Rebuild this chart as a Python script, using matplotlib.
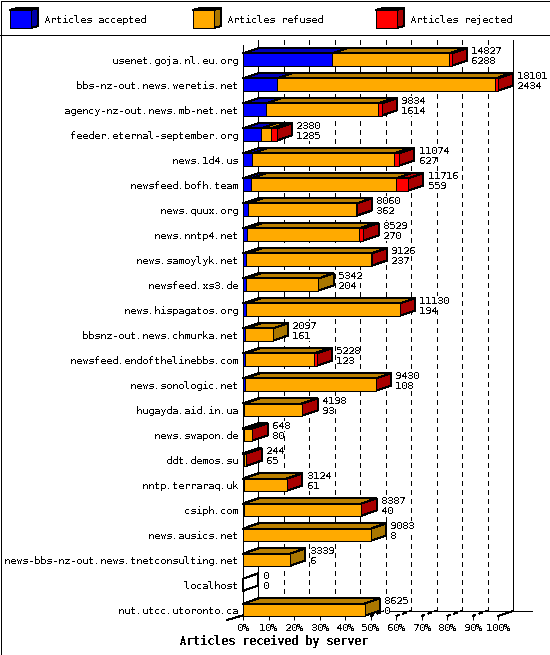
import matplotlib
matplotlib.use("Agg")
import matplotlib.pyplot as plt
from matplotlib.patches import Polygon, Rectangle

servers = ["usenet.goja.nl.eu.org", "bbs-nz-out.news.weretis.net", "agency-nz-out.news.mb-net.net",
           "feeder.eternal-september.org", "news.1d4.us", "newsfeed.bofh.team", "news.quux.org",
           "news.nntp4.net", "news.samoylyk.net", "newsfeed.xs3.de", "news.hispagatos.org",
           "bbsnz-out.news.chmurka.net", "newsfeed.endofthelinebbs.com", "news.sonologic.net",
           "hugayda.aid.in.ua", "news.swapon.de", "ddt.demos.su", "nntp.terraraq.uk", "csiph.com",
           "news.ausics.net", "news-bbs-nz-out.news.tnetconsulting.net", "localhost", "nut.utcc.utoronto.ca"]
total = [14827, 18101, 9834, 2380, 11074, 11716, 8060, 8529, 9126, 5342, 11130, 2097, 5228, 9430,
         4198, 648, 244, 3124, 8387, 9083, 3339, 0, 8625]
accepted = [6288, 2434, 1614, 1285, 627, 559, 362, 270, 237, 204, 194, 161, 123, 108, 93, 80, 65,
            61, 40, 8, 6, 0, 0]
rejected = [170, 180, 230, 390, 370, 870, 10, 280, 40, 0, 15, 0, 210, 10, 10, 10, 5, 10, 5, 0, 0, 0, 0]
xtick_values = [0, 10, 20, 30, 40, 50, 60, 70, 80, 90, 100]
legend_names = ["Articles accepted", "Articles refused", "Articles rejected"]
title = "Articles received by server"

FRONT = ["#0000FF", "#FFAA00", "#FF0000"]
TOP = ["#0000BB", "#BB8000", "#BB0000"]
SIDE = ["#0000AA", "#AA7700", "#AA0000"]
LW = 0.72
W, H = 550, 655
plt.rcParams["text.antialiased"] = False
plt.rcParams["text.hinting"] = "native"
plt.rcParams["text.hinting_factor"] = 1
plt.rcParams["font.family"] = ["DejaVu Sans Mono"]
plt.rcParams["font.size"] = 7.2

fig = plt.figure(figsize=(W / 100, H / 100), dpi=100, facecolor="white")

# chrome in pixel coordinates
chrome = fig.add_axes([0, 0, 1, 1], zorder=0)
chrome.set_xlim(0, W)
chrome.set_ylim(H, 0)
chrome.axis("off")
chrome.add_patch(Rectangle((0.5, 0.5), W - 1, H - 1, fc="none", ec="black", lw=LW, antialiased=False))
chrome.plot([0, W], [35, 35], color="black", lw=LW, antialiased=False)
for x0, name, f, t, s in zip([10, 193, 376], legend_names, FRONT, TOP, SIDE):
    chrome.add_patch(Polygon([(x0, 10), (x0 + 21, 10), (x0 + 28, 8), (x0 + 7, 8)], fc=t, ec="black", lw=LW, antialiased=False))
    chrome.add_patch(Polygon([(x0 + 21, 10), (x0 + 28, 8), (x0 + 28, 26), (x0 + 21, 28)], fc=s, ec="black", lw=LW, antialiased=False))
    chrome.add_patch(Rectangle((x0, 10), 21, 18, fc=f, ec="black", lw=LW, antialiased=False))
    chrome.text(x0 + 34, 20, name, va="center", ha="left")
chrome.text(273.5, 642, title, ha="center", va="center", fontweight="bold", fontsize=8.6)

ax = fig.add_axes([243 / W, 1 - 616 / H, 255 / W, 571 / H], zorder=1)
ax.patch.set_alpha(0)
ymin, ymax = 22.252, -0.58
ax.set_xlim(0, 100)
ax.set_ylim(ymin, ymax)
for sp in ax.spines.values():
    sp.set_visible(False)
ax.spines["left"].set_visible(True)
ax.spines["left"].set_linewidth(LW)
ax.set_xticks(xtick_values, [f"{v}%" for v in xtick_values])
ax.set_yticks(range(len(servers)), servers)
ax.tick_params(axis="x", length=2.88, width=LW, pad=2.5)
ax.tick_params(axis="y", length=0, pad=3.6)

dx = 15.4 / 255 * 100      # projected depth, in axis units
dy = -5.2 / 25             # projected depth, in rows
scale = 100 / max(total)
line = dict(color="black", lw=LW, antialiased=False, clip_on=False)

# walls, floor and grid
ax.plot([dx, dx], [ymin + dy, ymax + dy], zorder=1, **line)
ax.plot([100 + dx, 100 + dx], [ymin + dy, ymax + dy], zorder=1, **line)
ax.plot([dx, 100 + dx + 7.4], [ymin + dy, ymin + dy], zorder=1, **line)
ax.plot([-6.2, dx], [ymin + 0.16, ymin + dy], zorder=1, **line)
ax.plot([100, 100 + dx], [ymin, ymin + dy], zorder=1, **line)
for v in xtick_values[1:-1]:
    ax.plot([v + dx, v + dx], [ymin + dy, ymax + dy], ls=(0, (5, 5)), zorder=1, **line)
    ax.plot([v, v + dx], [ymin, ymin + dy], ls=(0, (4, 3)), zorder=1, **line)

bar_h = 0.49
for i, (tot, acc, rej) in enumerate(zip(total, accepted, rejected)):
    z = 2 + i
    segs = [acc, tot - acc - rej, rej]
    top_y, bot_y = i - bar_h / 2, i + bar_h / 2
    left = 0
    last = None
    for k, seg in enumerate(segs):
        w = seg * scale
        if seg > 0:
            last = k
            ax.add_patch(Polygon([(left, top_y), (left + w, top_y), (left + w + dx, top_y + dy), (left + dx, top_y + dy)],
                                 fc=TOP[k], ec="black", lw=LW, antialiased=False, clip_on=False, zorder=z))
        left += w
    end = left
    ax.add_patch(Polygon([(end, top_y), (end + dx, top_y + dy), (end + dx, bot_y + dy), (end, bot_y)],
                         fc=SIDE[last] if last is not None else "none", ec="black", lw=LW,
                         antialiased=False, clip_on=False, zorder=z))
    left = 0
    for k, seg in enumerate(segs):
        w = seg * scale
        if seg > 0:
            ax.barh(i, w, left=left, height=bar_h, color=FRONT[k], edgecolor="black", linewidth=LW,
                    antialiased=False, clip_on=False, zorder=z + 0.5)
        left += w
    box = dict(fc="white", ec="none", pad=0)
    ax.annotate(str(tot), (end, i), xytext=(19.5, 9), textcoords="offset pixels", va="center", ha="left", zorder=40, bbox=box)
    ax.annotate(str(acc), (end, i), xytext=(19.5, -1.5), textcoords="offset pixels", va="center", ha="left", zorder=40, bbox=box)

fig.savefig("out.png", dpi=100, facecolor="white")
